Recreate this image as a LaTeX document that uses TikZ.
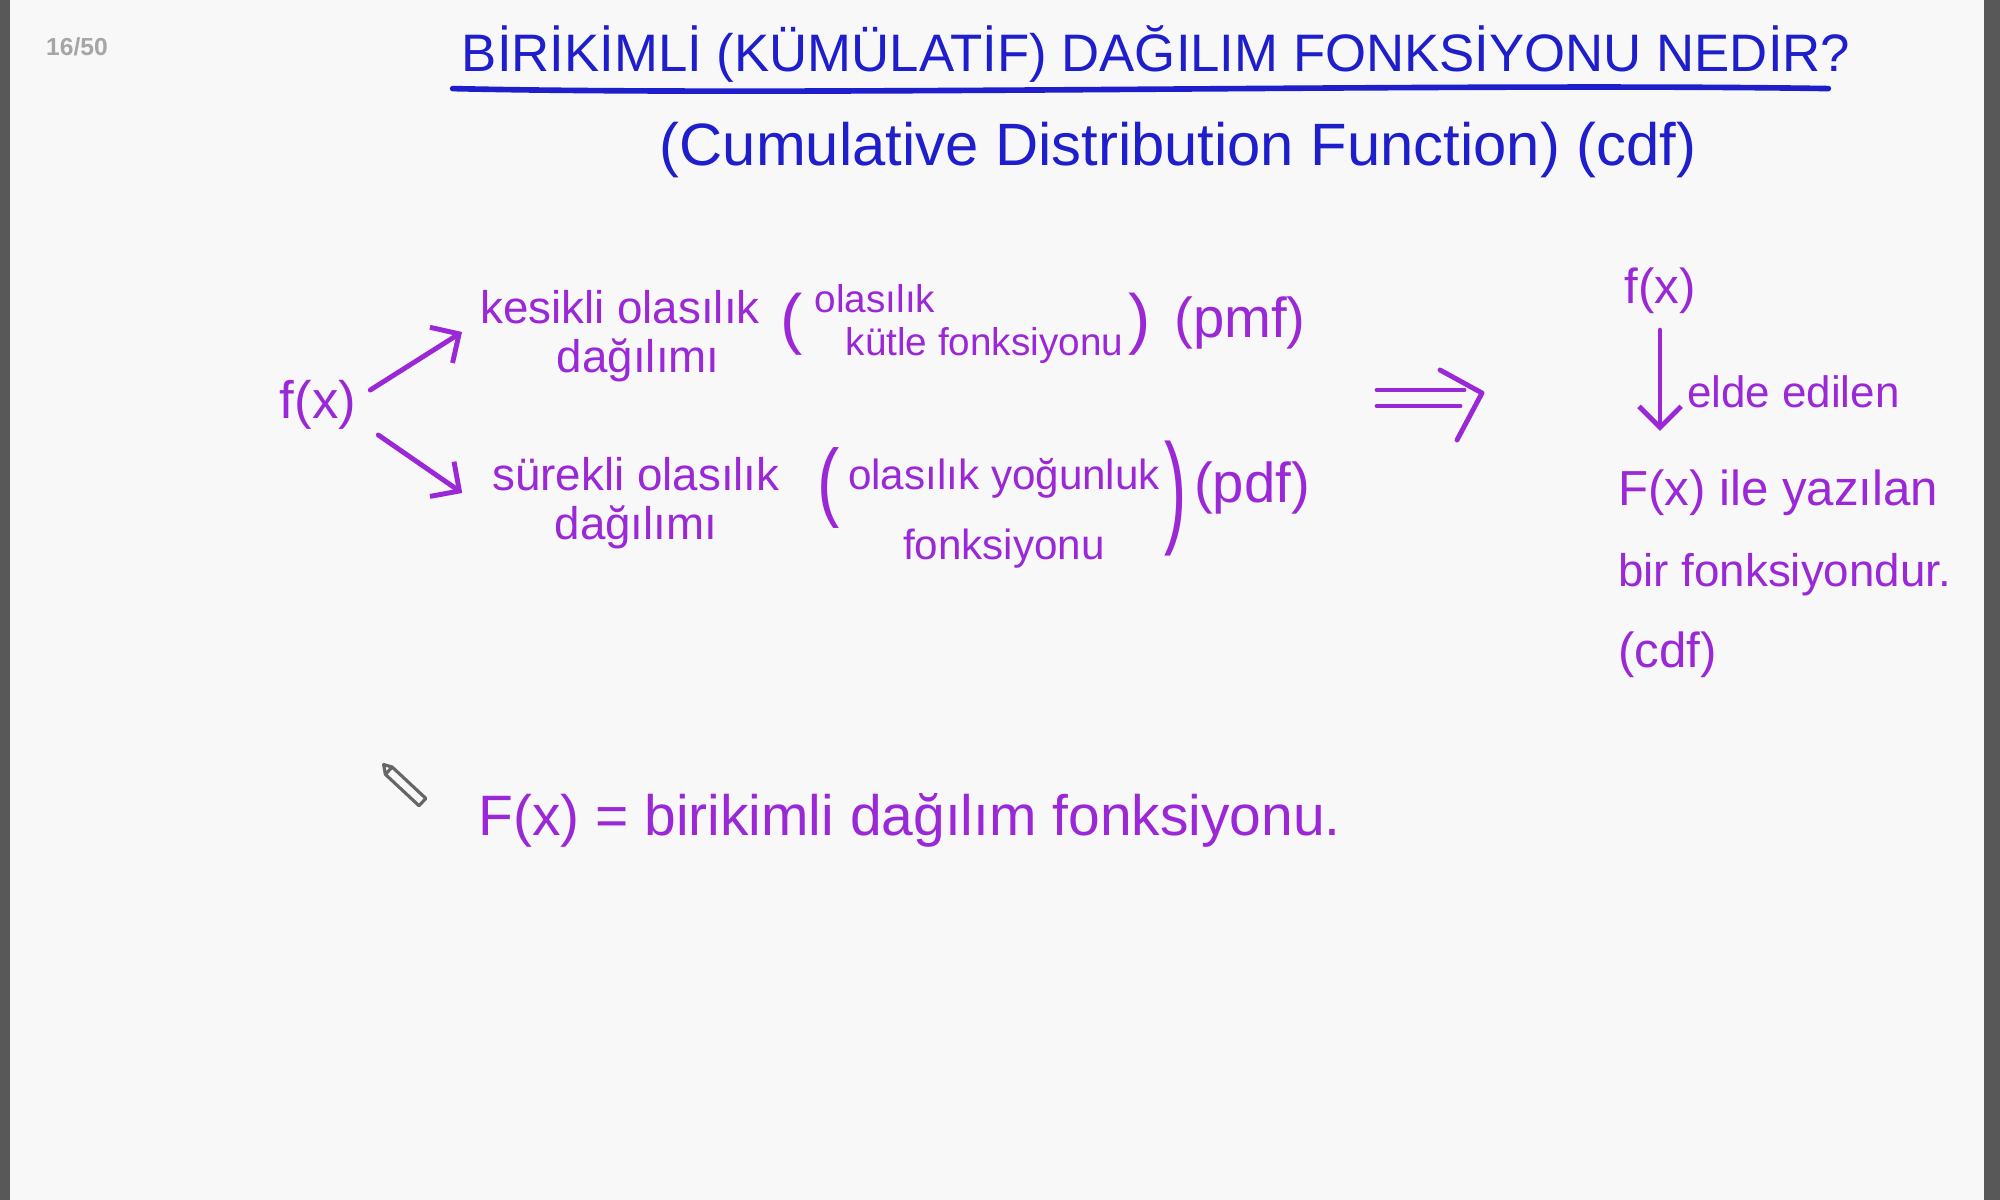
\documentclass[tikz,border=0pt]{standalone}
\usepackage{fontspec}
\usepackage{graphicx}
\setmainfont{Liberation Sans}
\usetikzlibrary{arrows.meta, positioning, calc}
\definecolor{penblue}{RGB}{30,30,205}
\definecolor{penpurple}{RGB}{155,40,215}
\definecolor{pagebg}{RGB}{248,248,248}
\definecolor{framegray}{RGB}{88,88,88}

\begin{document}
\begin{tikzpicture}[x=0.01cm, y=-0.01cm,
    heading/.style={text=penblue, inner sep=1pt, font=\fontsize{15}{18}\selectfont},
    hand/.style={text=penpurple, inner sep=1pt, align=center, font=\fontsize{13}{14}\selectfont},
    hand_big/.style={hand, font=\fontsize{16}{18}\selectfont},
    paren/.style={text=penpurple, inner sep=0pt, font=\fontsize{19}{19}\selectfont},
    pen/.style={draw=penpurple, line width=1.4pt, line cap=round, line join=round},
    pen_arr/.style={pen, -{Straight Barb[length=6pt, width=12pt]}}
]

\fill[pagebg] (0,0) rectangle (2000,1200);
\fill[framegray] (0,0) rectangle (10,1200);
\fill[framegray] (1984,0) rectangle (2000,1200);
\useasboundingbox (0,0) rectangle (2000,1200);

\node[text=gray!70, font=\fontsize{7}{8}\selectfont\bfseries] (page) at (77,47) {16/50};

\node[heading] (title) at (1156,54) {BİRİKİMLİ (KÜMÜLATİF) DAĞILIM FONKSİYONU NEDİR?};
\draw[draw=penblue, line width=1.6pt, line cap=round] ($(title.south west)+(-5,2)$) .. controls ($(title.south)+(-350,10)$) and ($(title.south)+(300,-4)$) .. ($(title.south east)+(-26,2)$);
\node[heading, font=\fontsize{17}{20}\selectfont] (subtitle) at (1178,150) {(Cumulative Distribution Function) (cdf)};

\node[hand, font=\fontsize{15}{18}\selectfont] (fx) at (318,405) {f(x)};

\node[hand] (pmf_dist) at (620,336) {kesikli olasılık\\\hspace*{0.8em}dağılımı};
\node[hand, align=left, font=\fontsize{11}{12}\selectfont] (pmf_name) at (969,324) {olasılık\\\hspace*{0.8em}kütle fonksiyonu};
\node[paren, left=2pt of pmf_name] (pmf_open) {(};
\node[paren, right=0pt of pmf_name] (pmf_close) {)};
\node[hand_big] (pmf) at (1240,323) {(pmf)};

\node[hand] (pdf_dist) at (636,503) {sürekli olasılık\\dağılımı};
\node[hand, font=\fontsize{12}{20}\selectfont] (pdf_name) at (1004,513) {olasılık yoğunluk\\fonksiyonu};
\node[paren, left=1pt of pdf_name, yshift=7pt] (pdf_open) {\scalebox{1}[1.3]{(}};
\node[paren, right=0pt of pdf_name, yshift=4pt] (pdf_close) {\scalebox{1}[1.85]{)}};
\node[hand_big] (pdf) at (1252,488) {(pdf)};

\draw[pen_arr] ($(fx.east)+(10,-15)$) -- ($(pmf_dist.west)+(-14,-4)$);
\draw[pen_arr] ($(fx.east)+(18,30)$) -- ($(pdf_dist.west)+(-26,-10)$);

\coordinate (impl_tail) at (1377,398);
\coordinate (impl_tip) at (1482,393);
\draw[pen] (impl_tail) ++(0,-8) -- ($(impl_tip)+(-18,-3)$);
\draw[pen] (impl_tail) ++(0,8) -- ($(impl_tip)+(-22,13)$);
\draw[pen] ($(impl_tip)+(-42,-23)$) -- (impl_tip) -- ($(impl_tip)+(-25,47)$);

\node[hand, font=\fontsize{14}{16}\selectfont] (fx_r) at (1660,291) {f(x)};
\node[hand, font=\fontsize{14}{23}\selectfont, align=left, anchor=west] (cdf) at (1614,574) {F(x) ile yazılan\\{\fontsize{13}{23}\selectfont bir fonksiyondur.}\\(cdf)};
\draw[pen_arr, shorten <=0.12cm, shorten >=0.35cm] (fx_r) -- (fx_r |- cdf.north) node[midway, right=6pt, hand, font=\fontsize{12.5}{14}\selectfont] (elde) {elde edilen};

\node[hand, font=\fontsize{16.2}{20}\selectfont, anchor=west] (cdf_def) at (474,820) {F(x) = birikimli dağılım fonksiyonu.};

\draw[gray!80!black, line width=0.9pt, line join=round, rotate around={-43:(400,788)}] (372,782) -- (380,778) -- (426,778) -- (426,788) -- (380,788) -- cycle (380,778) -- (380,788);

\end{tikzpicture}
\end{document}
